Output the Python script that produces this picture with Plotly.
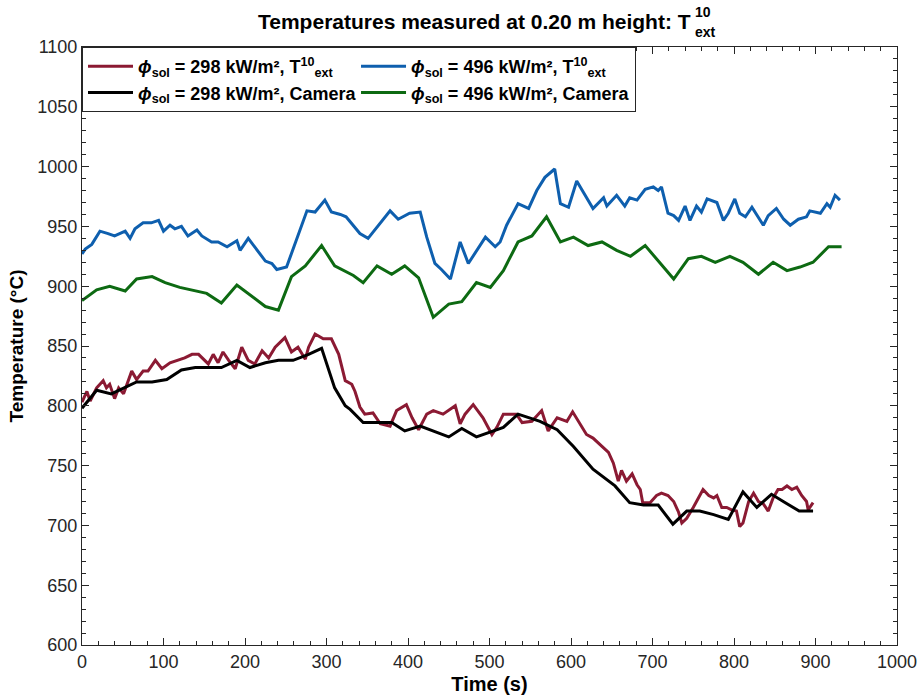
import plotly.graph_objects as go

# Thermocouple T_ext^10 readings and camera readings at 0.20 m height
t_red = [0, 6, 10, 18, 26, 30, 34, 40, 45, 51, 61, 67, 75, 81, 90, 98, 108, 118, 126, 135,
         143, 155, 161, 167, 173, 180, 188, 196, 204, 212, 221, 229, 237, 249, 257, 265, 274,
         278, 286, 296, 306, 315, 323, 331, 335, 341, 347, 357, 366, 378, 386, 398, 405, 413,
         423, 431, 443, 458, 464, 470, 480, 492, 503, 509, 517, 533, 540, 552, 564, 572, 583,
         595, 602, 619, 627, 638, 646, 652, 658, 662, 668, 675, 681, 685, 688, 697, 705, 711,
         719, 726, 732, 736, 742, 750, 762, 769, 775, 779, 785, 791, 797, 803, 807, 811, 818,
         824, 830, 836, 842, 848, 854, 859, 865, 871, 877, 883, 889, 891, 897]
T_red = [803, 812, 804, 815, 821, 815, 818, 806, 815, 810, 829, 822, 829, 829, 838, 831, 836,
         838, 840, 843, 843, 835, 843, 836, 845, 838, 831, 849, 838, 835, 846, 840, 849, 857,
         845, 849, 839, 849, 860, 856, 856, 843, 821, 818, 812, 799, 793, 794, 785, 783, 796,
         801, 790, 780, 793, 796, 793, 800, 785, 793, 801, 790, 776, 782, 793, 793, 786, 787,
         796, 779, 790, 787, 795, 776, 773, 766, 761, 752, 737, 746, 737, 743, 734, 730, 719,
         719, 725, 727, 725, 720, 711, 702, 706, 715, 730, 725, 723, 725, 715, 715, 713, 712,
         699, 702, 720, 727, 720, 718, 712, 723, 730, 730, 733, 730, 732, 725, 720, 713, 719]

t_blue = [0, 4, 12, 22, 32, 40, 53, 59, 65, 75, 85, 94, 100, 108, 114, 122, 130, 141, 147,
          159, 167, 178, 190, 194, 204, 212, 225, 233, 239, 251, 259, 270, 276, 286, 298, 306,
          317, 324, 331, 341, 351, 360, 378, 388, 402, 415, 423, 433, 441, 452, 458, 464, 474,
          484, 495, 507, 513, 521, 535, 548, 558, 568, 580, 587, 597, 607, 621, 627, 640, 644,
          656, 666, 672, 681, 691, 701, 707, 711, 719, 726, 732, 740, 746, 754, 760, 767, 779,
          787, 793, 801, 807, 814, 822, 832, 836, 842, 852, 861, 869, 879, 889, 893, 906, 914,
          918, 924, 930]
T_blue = [927, 931, 935, 946, 944, 942, 946, 940, 948, 953, 953, 955, 946, 951, 948, 950, 942,
          947, 942, 937, 937, 933, 938, 930, 940, 933, 921, 919, 914, 916, 931, 951, 963, 962,
          972, 962, 960, 958, 952, 944, 940, 948, 963, 956, 961, 962, 941, 919, 914, 906, 921,
          937, 919, 930, 941, 933, 937, 951, 969, 965, 980, 991, 998, 969, 966, 988, 972, 965,
          974, 967, 976, 967, 974, 972, 981, 983, 980, 983, 961, 959, 955, 967, 955, 967, 962,
          973, 970, 955, 961, 973, 961, 958, 966, 955, 951, 959, 965, 956, 951, 956, 958, 963,
          961, 969, 966, 976, 972]

t_black = [0, 18, 36, 67, 86, 104, 122, 139, 171, 190, 206, 225, 241, 259, 278, 294, 310,
           323, 329, 345, 380, 396, 415, 450, 466, 484, 517, 535, 562, 583, 603, 627, 654, 672,
           689, 707, 725, 742, 758, 775, 793, 811, 828, 846, 863, 880, 897]
T_black = [798, 813, 810, 820, 820, 822, 830, 832, 832, 838, 832, 836, 838, 838, 843, 848, 815,
           800, 797, 786, 786, 779, 783, 774, 781, 774, 782, 793, 787, 780, 766, 747, 733, 719,
           717, 717, 701, 712, 712, 709, 705, 728, 715, 726, 719, 712, 712]

t_green = [0, 18, 34, 53, 67, 86, 102, 120, 153, 171, 190, 225, 241, 257, 274, 294, 310, 333,
           345, 362, 380, 396, 413, 431, 450, 466, 484, 501, 517, 535, 552, 570, 587, 603, 621,
           638, 656, 673, 691, 726, 744, 760, 777, 795, 811, 830, 848, 865, 881, 897, 916, 932]
T_green = [888, 897, 900, 896, 906, 908, 903, 899, 894, 886, 901, 883, 880, 908, 917, 934, 917,
           909, 903, 917, 910, 917, 907, 874, 885, 887, 903, 899, 913, 937, 942, 958, 937, 941,
           934, 937, 930, 925, 934, 906, 923, 925, 920, 925, 920, 910, 920, 913, 916, 920, 933,
           933]

series = [
    (t_red, T_red, "#8b1a33", "<b><i>ϕ</i><sub>sol</sub> = 298 kW/m², T<sup>10</sup><sub>ext</sub></b>"),
    (t_blue, T_blue, "#0e5fae", "<b><i>ϕ</i><sub>sol</sub> = 496 kW/m², T<sup>10</sup><sub>ext</sub></b>"),
    (t_black, T_black, "#000000", "<b><i>ϕ</i><sub>sol</sub> = 298 kW/m², Camera</b>"),
    (t_green, T_green, "#0d6a12", "<b><i>ϕ</i><sub>sol</sub> = 496 kW/m², Camera</b>"),
]

FONT = "Liberation Sans, Arial, Helvetica, sans-serif"
AXC = "#262626"

fig = go.Figure()
for x, y, c, name in series:
    fig.add_trace(go.Scatter(x=x, y=y, mode="lines", name=name,
                             line=dict(color=c, width=3)))

axis_common = dict(
    showline=True, linecolor=AXC, linewidth=1, mirror="ticks",
    ticks="inside", ticklen=7, tickcolor=AXC, tickwidth=1,
    showgrid=False, zeroline=False, automargin=False,
    ticklabeloverflow="allow",
    tickfont=dict(family=FONT, size=18, color=AXC),
)

fig.update_xaxes(range=[0, 1000], dtick=100, tick0=0,
                 minor=dict(ticks="inside", ticklen=4, dtick=20, tickcolor=AXC, showgrid=False),
                 title=dict(text="<b>Time (s)</b>", font=dict(family=FONT, size=20, color="#000"),
                            standoff=6),
                 ticklabelstandoff=0,
                 **axis_common)
fig.update_yaxes(range=[600, 1100], dtick=50, tick0=600,
                 minor=dict(ticks="inside", ticklen=4, dtick=10, tickcolor=AXC, showgrid=False),
                 title=dict(text="<b>Temperature (°C)</b>", font=dict(family=FONT, size=19, color="#000"),
                            standoff=8),
                 **axis_common)

# title with stacked super/subscript on T
tx = (693 - 82) / 815
fig.add_annotation(text="<b>Temperatures measured at 0.20 m height: T</b>",
                   xref="paper", yref="paper", x=tx, y=(645 - 21) / 598,
                   xanchor="right", yanchor="middle", showarrow=False,
                   font=dict(family=FONT, size=21, color="#000"))
fig.add_annotation(text="<b>10</b>", xref="paper", yref="paper", x=tx, y=(645 - 12) / 598,
                   xanchor="left", yanchor="middle", showarrow=False,
                   font=dict(family=FONT, size=14, color="#000"))
fig.add_annotation(text="<b>ext</b>", xref="paper", yref="paper", x=tx, y=(645 - 32) / 598,
                   xanchor="left", yanchor="middle", showarrow=False,
                   font=dict(family=FONT, size=14, color="#000"))

fig.update_layout(
    width=917, height=695,
    margin=dict(l=82, r=20, t=47, b=50),
    paper_bgcolor="white", plot_bgcolor="white",
    showlegend=True,
    legend=dict(x=0, y=1, xanchor="left", yanchor="top", orientation="h",
                bgcolor="white", bordercolor=AXC, borderwidth=1,
                entrywidth=0.335, entrywidthmode="fraction", itemwidth=45,
                font=dict(family=FONT, size=18, color="#000"),
                tracegroupgap=0),
)

fig.write_html("out.html")
